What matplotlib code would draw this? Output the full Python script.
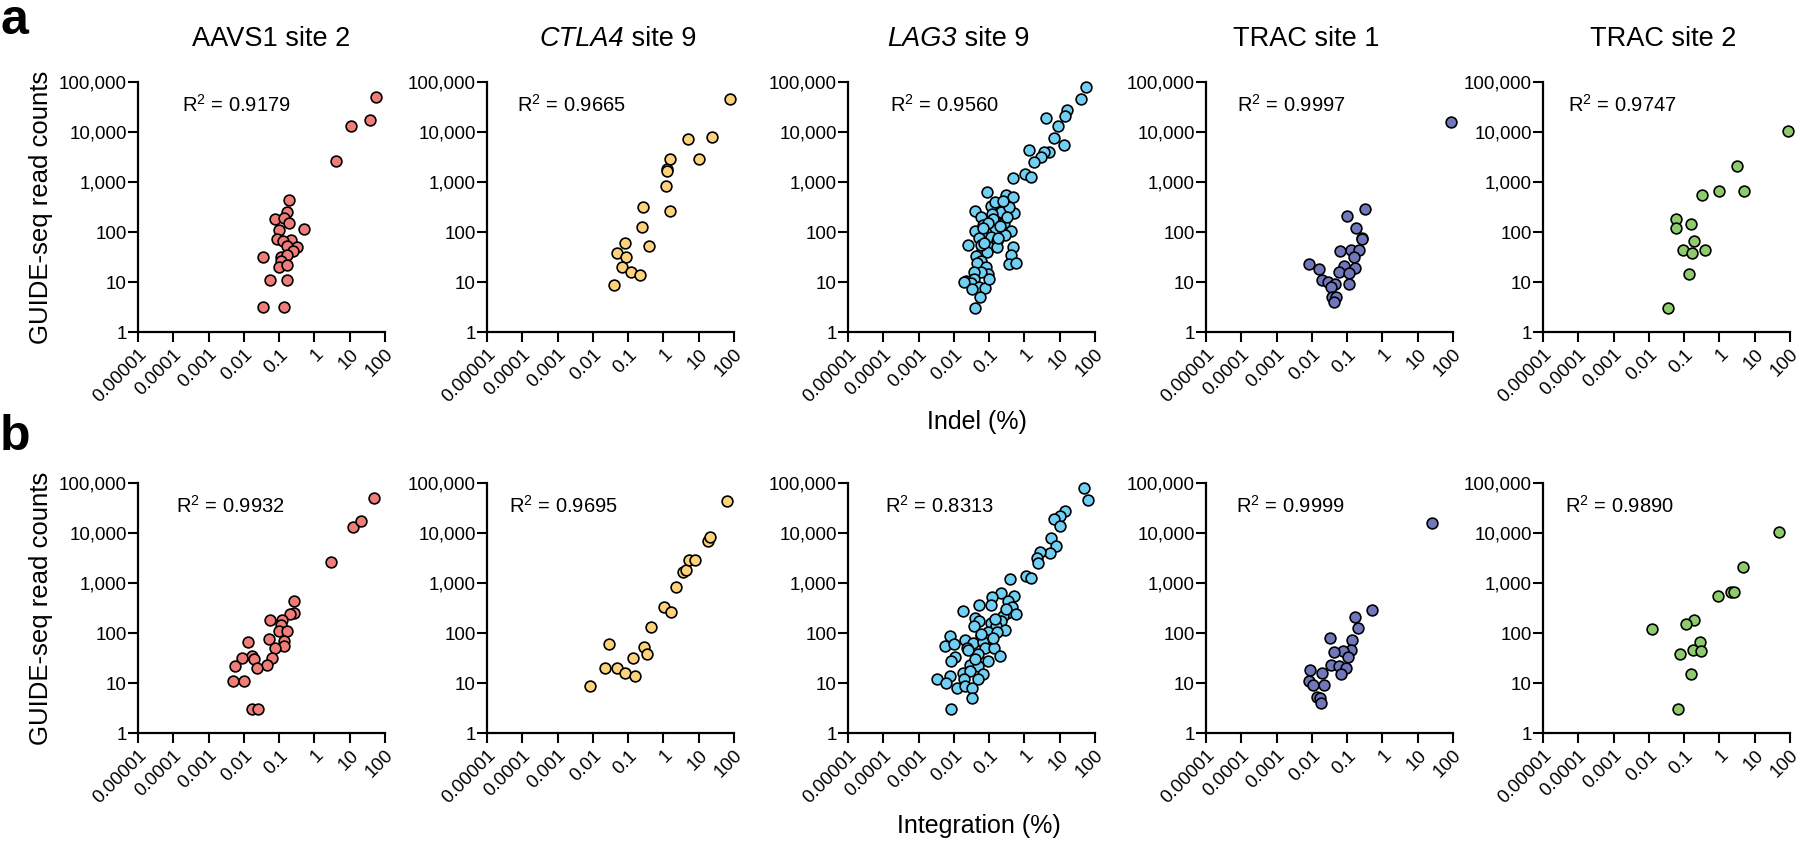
import numpy as np
import matplotlib
matplotlib.use("Agg")
import matplotlib.pyplot as plt

plt.rcParams['font.family'] = ['Liberation Sans', 'DejaVu Sans']
plt.rcParams['mathtext.fontset'] = 'custom'
plt.rcParams['mathtext.rm'] = 'Liberation Sans'

# --- DATA ---
# (italic gene part, regular part)
titles = [("", "AAVS1 site 2"), ("CTLA4", " site 9"), ("LAG3", " site 9"),
          ("", "TRAC site 1"), ("", "TRAC site 2")]
colors = ["#F07D78", "#FCD27B", "#70D0F4", "#7078BB", "#8ECB6C"]
r2_indel = ["0.9179", "0.9665", "0.9560", "0.9997", "0.9747"]
r2_integ = ["0.9932", "0.9695", "0.8313", "0.9999", "0.9890"]

xtick_vals = [1e-5, 1e-4, 1e-3, 1e-2, 1e-1, 1, 10, 100]
xtick_labels = ["0.00001", "0.0001", "0.001", "0.01", "0.1", "1", "10", "100"]
ytick_vals = [1, 10, 100, 1000, 10000, 100000]
ytick_labels = ["1", "10", "100", "1,000", "10,000", "100,000"]

# row a: indel (%) vs read counts
aavs1_indel_x = [11, 4, 55, 37, 0.19, 0.17, 0.074, 0.14, 0.19, 0.51, 0.10, 0.089, 0.21, 0.126,
                 0.17, 0.33, 0.24, 0.11, 0.17, 0.034, 0.115, 0.098, 0.17, 0.054, 0.17, 0.035, 0.135]
aavs1_indel_y = [13000, 2650, 51000, 17000, 445, 248, 184, 190, 151, 113, 109, 71, 69, 65,
                 53, 50, 41, 32, 34, 31, 26.6, 20.4, 21.7, 11.2, 11.2, 3.1, 3.1]

ctla4_indel_x = [0.040, 0.047, 0.080, 0.089, 0.067, 0.12, 0.21, 0.25, 0.27, 0.40, 1.17, 1.58,
                 1.24, 1.3, 1.58, 5.0, 10, 24, 79]
ctla4_indel_y = [8.9, 38, 60, 32, 19.5, 15.5, 13.9, 125, 323, 53, 820, 259,
                 1840, 1650, 2830, 7200, 2900, 8100, 45000]

lag3_indel_x = [56, 39, 16, 14.5, 4, 8.9, 6.7, 13, 1.35, 4.9, 3.5, 2.9, 1.86, 1.07, 1.55, 0.48,
                0.089, 0.31, 0.46, 0.040, 0.11, 0.15, 0.21, 0.50, 0.36, 0.12, 0.057, 0.15, 0.27,
                0.067, 0.15, 0.41, 0.04, 0.08, 0.29, 0.052, 0.11, 0.17, 0.025, 0.1, 0.17, 0.46,
                0.057, 0.089, 0.042, 0.41, 0.057, 0.044, 0.36, 0.59, 0.08, 0.095, 0.057, 0.037,
                0.022, 0.037, 0.030, 0.051, 0.075, 0.10, 0.019, 0.032, 0.054, 0.040, 0.057,
                0.13, 0.2, 0.07, 0.24, 0.09, 0.33, 0.18, 0.065]
lag3_indel_y = [81000, 46000, 27000, 21000, 18700, 13200, 7600, 5600, 4300, 3950, 4000, 3200,
                2500, 1420, 1250, 1230, 630, 560, 510, 260, 335, 390, 246, 240, 310, 228, 195,
                167, 148, 137, 113, 107, 104, 97, 88, 77, 81, 66, 56, 51, 51, 50, 38, 39, 33,
                35, 26.5, 24.5, 23, 24.5, 20, 14.4, 15.5, 15.5, 10.5, 11.3, 9.4, 8.1, 7.7, 11.3,
                10, 7.4, 5.0, 3.0, 56, 180, 130, 60, 420, 150, 200, 75, 120]

trac1_indel_x = [0.32, 0.096, 0.18, 0.27, 0.26, 0.126, 0.063, 0.22, 0.16, 0.0085, 0.0155, 0.084,
                 0.17, 0.059, 0.11, 0.019, 0.028, 0.046, 0.114, 0.036, 0.037, 0.048, 0.043, 87]
trac1_indel_y = [288, 205, 123, 77, 72, 44, 42, 43, 32, 23.3, 18.6, 20.6,
                 19, 15.8, 15, 11.1, 10, 9, 9, 7.8, 5.1, 5, 4, 15600]

trac2_indel_x = [85, 3.2, 5, 1.0, 0.33, 0.058, 0.058, 0.16, 0.19, 0.091, 0.17, 0.39, 0.14, 0.034]
trac2_indel_y = [10300, 2090, 650, 650, 540, 179, 118, 147, 65, 44, 38, 44, 14.7, 3.0]

# row b: integration (%) vs read counts
aavs1_integ_x = [0.26, 0.26, 0.20, 0.054, 0.12, 0.11, 0.10, 0.17, 0.013, 0.051, 0.14, 0.14, 0.074,
                 0.017, 0.020, 0.0091, 0.063, 0.0057, 0.046, 0.024, 0.0049, 0.01, 0.0166, 0.0245,
                 2.9, 12.4, 21, 49]
aavs1_integ_y = [445, 251, 240, 182, 185, 147, 108, 111, 65, 76, 68, 54, 49,
                 34, 30, 32, 31, 22, 23, 20, 11.1, 11.1, 3.0, 3.0,
                 2640, 13000, 17000, 50000]

ctla4_integ_x = [0.0083, 0.022, 0.028, 0.049, 0.083, 0.158, 0.14, 0.29, 0.35, 0.45, 1.02, 1.62,
                 2.3, 3.6, 4.5, 5.2, 7.7, 18, 21, 65]
ctla4_integ_y = [8.9, 20, 61, 20, 15.8, 14, 32, 53, 38, 129, 330, 262,
                 830, 1650, 1830, 2900, 2900, 7000, 8200, 44500]

lag3_integ_x = [49, 63, 14.5, 10, 6.8, 10.4, 5.5, 7.6, 5.2, 2.8, 2.2, 2.5, 1.12, 1.58, 0.38,
                0.21, 0.12, 0.5, 0.35, 0.05, 0.11, 0.44, 0.018, 0.33, 0.57, 0.24, 0.041, 0.05,
                0.21, 0.11, 0.038, 0.16, 0.28, 0.091, 0.17, 0.0076, 0.058, 0.021, 0.091, 0.0055,
                0.010, 0.034, 0.065, 0.023, 0.078, 0.138, 0.011, 0.047, 0.20, 0.0083, 0.091,
                0.028, 0.047, 0.018, 0.028, 0.069, 0.0034, 0.0076, 0.019, 0.047, 0.006, 0.012,
                0.021, 0.033, 0.033, 0.0083, 0.15, 0.3, 0.06, 0.025, 0.13, 0.04]
lag3_integ_y = [80000, 46000, 28000, 22000, 19200, 14000, 7900, 5600, 3950, 4200, 3150, 2500,
                1410, 1240, 1200, 630, 515, 540, 427, 355, 355, 325, 270, 255, 240, 222, 204,
                176, 176, 159, 141, 141, 116, 103, 103, 88, 86, 73, 73, 55, 60, 62, 65, 51, 51,
                50, 33, 38, 35, 27, 27, 23, 21.4, 16, 17.5, 15, 12, 13.9, 12, 12, 9.9, 8.1, 8.7,
                7.9, 5.1, 3, 190, 300, 95, 45, 80, 30]

trac1_integ_x = [0.50, 0.17, 0.20, 0.14, 0.033, 0.13, 0.075, 0.042, 0.107, 0.035, 0.058, 0.091,
                 0.068, 0.0087, 0.020, 0.0082, 0.011, 0.022, 0.014, 0.017, 0.018, 26]
trac1_integ_y = [283, 212, 124, 73, 78, 45, 43, 42, 33, 23, 21.4, 19.5,
                 15.2, 18, 15.9, 10.9, 9.3, 9.1, 5.2, 5, 3.9, 15500]

trac2_integ_x = [50, 4.7, 2.1, 2.6, 0.94, 0.19, 0.11, 0.012, 0.29, 0.18, 0.30, 0.077, 0.16, 0.065]
trac2_integ_y = [10700, 2130, 660, 650, 555, 181, 150, 123, 65, 45, 44, 38, 15, 3]

indel_data = [(aavs1_indel_x, aavs1_indel_y), (ctla4_indel_x, ctla4_indel_y),
              (lag3_indel_x, lag3_indel_y), (trac1_indel_x, trac1_indel_y),
              (trac2_indel_x, trac2_indel_y)]
integ_data = [(aavs1_integ_x, aavs1_integ_y), (ctla4_integ_x, ctla4_integ_y),
              (lag3_integ_x, lag3_integ_y), (trac1_integ_x, trac1_integ_y),
              (trac2_integ_x, trac2_integ_y)]

# --- LAYOUT (pixels in a 1800x843 canvas) ---
W, H = 1800, 843
col_left = [138, 487, 848, 1206, 1543]
ax_w = 247
row_top = [82, 483]
ax_h = 250
title_start = [0.22, 0.213, 0.16, 0.11, 0.19]   # left edge of each title, axes fraction
r2_x_a = [0.18, 0.12, 0.17, 0.125, 0.10]
r2_x_b = [0.155, 0.09, 0.15, 0.12, 0.09]


def style_axes(ax):
    ax.set_xscale('log')
    ax.set_yscale('log')
    ax.set_xlim(1e-5, 100)
    ax.set_ylim(1, 1e5)
    for s in ['top', 'right']:
        ax.spines[s].set_visible(False)
    for s in ['left', 'bottom']:
        ax.spines[s].set_linewidth(1.6)
    ax.set_xticks(xtick_vals)
    ax.set_xticklabels(xtick_labels, rotation=45, ha='right', rotation_mode='anchor')
    ax.set_yticks(ytick_vals)
    ax.set_yticklabels(ytick_labels)
    ax.minorticks_off()
    ax.tick_params(axis='both', length=7, width=1.5, labelsize=13.5)
    ax.tick_params(axis='y', pad=1)
    ax.tick_params(axis='x', pad=3)


fig = plt.figure(figsize=(18, 8.43), dpi=100)

for r, (data, r2s, r2x) in enumerate([(indel_data, r2_indel, r2_x_a), (integ_data, r2_integ, r2_x_b)]):
    for c in range(5):
        left = col_left[c] / W
        bottom = 1 - (row_top[r] + ax_h) / H
        ax = fig.add_axes([left, bottom, ax_w / W, ax_h / H])
        style_axes(ax)
        xs, ys = data[c]
        ax.scatter(xs, ys, s=60, facecolor=colors[c], edgecolor='black',
                   linewidth=1.2, clip_on=False, zorder=3)
        ax.text(r2x[c], 0.91, "R$^2$ = " + r2s[c], transform=ax.transAxes,
                fontsize=14.5, ha='left', va='center')
        if c == 0:
            ax.set_ylabel("GUIDE-seq read counts", fontsize=18.5, labelpad=4)
        if r == 0:
            gene, rest = titles[c]
            t1 = ax.text(title_start[c], 1.12, gene, transform=ax.transAxes,
                         fontsize=19.5, style='italic', ha='left', va='bottom')
            ax.annotate(rest, xy=(1, 0), xycoords=t1, fontsize=19.5,
                        ha='left', va='bottom')

fig.text(977 / W, 1 - 422 / H, "Indel (%)", fontsize=18, ha='center', va='center')
fig.text(979 / W, 1 - 826 / H, "Integration (%)", fontsize=18, ha='center', va='center')
fig.text(0 / W, 1 - 21 / H, "a", fontsize=36, fontweight='bold', ha='left', va='center')
fig.text(0 / W, 1 - 437 / H, "b", fontsize=36, fontweight='bold', ha='left', va='center')

fig.savefig("out.png", dpi=100, facecolor='white')
